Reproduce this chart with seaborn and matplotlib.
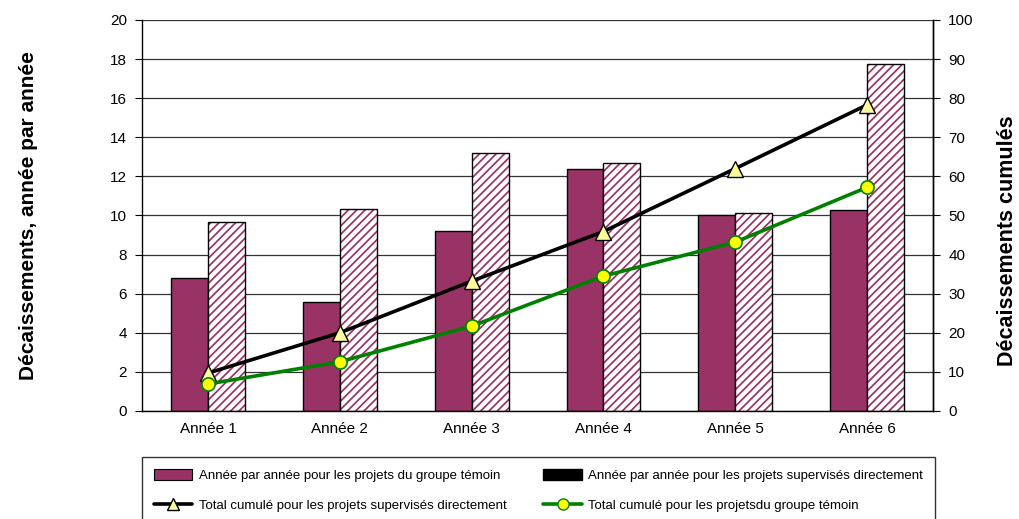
import numpy as np
import pandas as pd
import matplotlib
matplotlib.use("Agg")
import matplotlib.pyplot as plt
from matplotlib.patches import Patch, Rectangle
from matplotlib.lines import Line2D
import seaborn as sns

# Annual disbursements and cumulative totals per project group
years = ["Année 1", "Année 2", "Année 3", "Année 4", "Année 5", "Année 6"]
annual_temoin = [6.8, 5.6, 9.2, 12.4, 10.0, 10.3]
annual_supervises = [9.65, 10.35, 13.2, 12.7, 10.15, 17.75]
cumul_supervises = [9.7, 20.0, 33.2, 45.9, 62.0, 78.3]
cumul_temoin = [6.9, 12.6, 21.7, 34.5, 43.2, 57.2]

lab_temoin = "Année par année pour les projets du groupe témoin"
lab_sup = "Année par année pour les projets supervisés directement"
lab_cum_sup = "Total cumulé pour les projets supervisés directement"
lab_cum_tem = "Total cumulé pour les projetsdu groupe témoin"

sns.set_style("white")
plt.rcParams["font.family"] = ["Liberation Sans", "DejaVu Sans"]
plt.rcParams["hatch.linewidth"] = 1.25
for k in ["text.color", "axes.labelcolor", "xtick.color", "ytick.color"]:
    plt.rcParams[k] = "black"

PURPLE = "#993366"

df = pd.DataFrame({
    "annee": years * 2,
    "valeur": annual_temoin + annual_supervises,
    "serie": [lab_temoin] * len(years) + [lab_sup] * len(years),
})

fig = plt.figure(figsize=(10.19, 5.19), dpi=100)
ax = fig.add_axes([0.1394, 0.2081, 0.7762, 0.7534])

sns.barplot(data=df, x="annee", y="valeur", hue="serie",
            palette={lab_temoin: PURPLE, lab_sup: "white"}, saturation=1,
            width=0.56, gap=0, edgecolor="black", linewidth=1.0,
            legend=False, ax=ax, zorder=2)

# Hatched bars: stripes in purple, outline redrawn in black
for p in ax.containers[1]:
    p.set_edgecolor(PURPLE)
    p.set_linewidth(0)
    p.set_hatch("////")
    ax.add_patch(Rectangle(p.get_xy(), p.get_width(), p.get_height(),
                           fill=False, edgecolor="black", lw=1.0, zorder=3))

ax.set_xlim(-0.5, len(years) - 0.5)
ax.set_ylim(0, 20)
ax.set_yticks(np.arange(0, 21, 2))
ax.yaxis.grid(True, color="#333333", lw=0.9)
ax.set_axisbelow(True)
ax.set_xlabel("")
ax.set_ylabel("Décaissements, année par année", fontsize=15, fontweight="bold", labelpad=52)
ax.set_xticks(np.arange(len(years)))
ax.set_xticklabels(years)
ax.set_xticks(np.arange(-0.5, len(years), 1.0), minor=True)
ax.tick_params(axis="x", which="major", length=0, labelsize=11, pad=8)
ax.tick_params(axis="x", which="minor", length=5, direction="out", color="black", width=1)
ax.tick_params(axis="y", length=5, direction="out", color="black", labelsize=11, left=True, pad=6)
for s in ["left", "bottom", "right"]:
    ax.spines[s].set_color("black")
    ax.spines[s].set_linewidth(1)
ax.spines["top"].set_visible(False)

ax2 = ax.twinx()
pos = np.arange(len(years))
sns.lineplot(x=pos, y=cumul_supervises, ax=ax2, color="black", lw=2.6,
             marker="^", markersize=11, markerfacecolor="#FFFF99",
             markeredgecolor="black", markeredgewidth=1, zorder=5)
sns.lineplot(x=pos, y=cumul_temoin, ax=ax2, color="#008000", lw=2.6,
             marker="o", markersize=9.5, markerfacecolor="#FFFF00",
             markeredgecolor="#008000", markeredgewidth=1.2, zorder=5)
ax2.set_ylim(0, 100)
ax2.set_yticks(np.arange(0, 101, 10))
ax2.tick_params(axis="y", length=5, direction="out", color="black", labelsize=11, right=True, pad=6)
ax2.set_ylabel("Décaissements cumulés", fontsize=15.5, fontweight="bold")
ax2.yaxis.set_label_coords(1.081, 0.435)
ax2.grid(False)
for s in ["left", "bottom", "top"]:
    ax2.spines[s].set_visible(False)
ax2.spines["right"].set_color("black")
ax2.spines["right"].set_linewidth(1)

handles = [
    Patch(facecolor=PURPLE, edgecolor="black", lw=0.8),
    Line2D([], [], color="black", lw=2.6, marker="^", markersize=9,
           markerfacecolor="#FFFF99", markeredgecolor="black"),
    Patch(facecolor="black", edgecolor="black"),
    Line2D([], [], color="#008000", lw=2.6, marker="o", markersize=8,
           markerfacecolor="#FFFF00", markeredgecolor="#008000"),
]
labels = [lab_temoin, lab_cum_sup, lab_sup, lab_cum_tem]
leg = fig.legend(handles, labels, ncol=2, loc="upper left",
                 bbox_to_anchor=(0.1394, 0.0, 0.7782, 0.1195), mode="expand",
                 fontsize=9.5, frameon=True, fancybox=False, edgecolor="black",
                 handlelength=2.9, handleheight=0.9, labelspacing=1.3,
                 borderaxespad=0, columnspacing=2.0, handletextpad=0.5,
                 borderpad=0.9)
leg.get_frame().set_linewidth(1)

fig.savefig("out.png", dpi=100)
